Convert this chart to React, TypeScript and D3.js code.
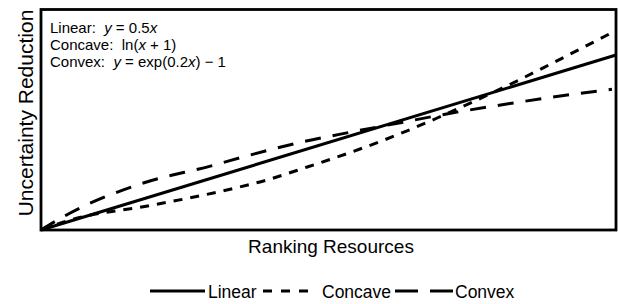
import * as d3 from 'd3';
import React, { useEffect, useRef } from 'react';

// values (x: resources 0..10, y: reduction)
const linearX = [0, 10];
const linearY = [0, 5];

const concaveX = [0, 0.5, 1.9, 3.06, 3.93, 4.63, 5.37, 5.95, 6.42, 6.89, 7.51, 8.33, 8.85, 9.93];
const concaveY = [0, 0.28, 0.7, 1.08, 1.43, 1.8, 2.21, 2.56, 2.87, 3.2, 3.66, 4.3, 4.73, 5.64];

const convexX = [0, 0.5, 1.7, 3.0, 3.5, 4.5, 5.4, 6.2, 7.1, 8.1, 9.0, 9.93];
const convexY = [0, 0.48, 1.3, 1.85, 2.08, 2.5, 2.8, 3.05, 3.33, 3.6, 3.82, 4.02];

const legendNames = ['Linear', 'Concave', 'Convex'];

const W = 618;
const H = 304;

const App: React.FC = () => {
  const svgRef = useRef<SVGSVGElement>(null);

  useEffect(() => {
    if (!svgRef.current) return;
    const svg = d3.select(svgRef.current);
    svg.selectAll('*').remove();

    const left = 41, right = 616, top = 9.5, bottom = 230;
    const font = 'Liberation Sans, Arial, Helvetica, sans-serif';

    const x = d3.scaleLinear().domain([0, 10]).range([left, right]);
    const y = d3.scaleLinear().domain([0, 6.3]).range([bottom, top]);

    const line = d3.line<[number, number]>()
      .x(d => x(d[0]))
      .y(d => y(d[1]))
      .curve(d3.curveMonotoneX);

    const zip = (xs: number[], ys: number[]) => xs.map((v, i) => [v, ys[i]] as [number, number]);

    const series = [
      { pts: zip(linearX, linearY), dash: null },
      { pts: zip(concaveX, concaveY), dash: '9,8' },
      { pts: zip(convexX, convexY), dash: '16,12' },
    ];

    // frame
    svg.append('rect')
      .attr('x', left).attr('y', top)
      .attr('width', right - left).attr('height', bottom - top)
      .attr('fill', 'none')
      .attr('stroke', '#000')
      .attr('stroke-width', 2.8);

    series.forEach(s => {
      svg.append('path')
        .datum(s.pts)
        .attr('d', line)
        .attr('fill', 'none')
        .attr('stroke', '#000')
        .attr('stroke-width', 3)
        .attr('stroke-dasharray', s.dash ?? null);
    });

    // equations
    const eq = svg.append('text')
      .attr('x', 50).attr('y', 33)
      .style('font-family', font)
      .style('font-size', '15px')
      .attr('fill', '#000');
    const addLine = (parts: [string, boolean][], dy: number) => {
      parts.forEach(([t, it], i) => {
        const ts = eq.append('tspan').text(t);
        if (i === 0) ts.attr('x', 50).attr('dy', dy);
        if (it) ts.style('font-style', 'italic');
      });
    };
    addLine([['Linear:\u00a0\u00a0', false], ['y', true], [' = 0.5', false], ['x', true]], 0);
    addLine([['Concave:\u00a0\u00a0ln(', false], ['x', true], [' + 1)', false]], 17);
    addLine([['Convex:\u00a0\u00a0', false], ['y', true], [' = exp(0.2', false], ['x', true], [') \u2212 1', false]], 17);

    // axis titles
    svg.append('text')
      .attr('transform', `translate(33, 113) rotate(-90)`)
      .attr('text-anchor', 'middle')
      .style('font-family', font)
      .style('font-size', '21px')
      .attr('fill', '#000')
      .text('Uncertainty Reduction');

    svg.append('text')
      .attr('x', 331).attr('y', 253)
      .attr('text-anchor', 'middle')
      .style('font-family', font)
      .style('font-size', '19px')
      .attr('fill', '#000')
      .text('Ranking Resources');

    // legend
    const legendY = 291;
    const swatches = [
      { x0: 150, x1: 205, tx: 208, dash: null },
      { x0: 263, x1: 308, tx: 322, dash: '9,9' },
      { x0: 395, x1: 453, tx: 455, dash: '23,12' },
    ];
    swatches.forEach((sw, i) => {
      svg.append('line')
        .attr('x1', sw.x0).attr('x2', sw.x1)
        .attr('y1', legendY).attr('y2', legendY)
        .attr('stroke', '#000')
        .attr('stroke-width', 3)
        .attr('stroke-dasharray', sw.dash ?? null);
      svg.append('text')
        .attr('x', sw.tx).attr('y', 297.5)
        .style('font-family', font)
        .style('font-size', '17.5px')
        .attr('fill', '#000')
        .text(legendNames[i]);
    });
  }, []);

  return (
    <svg
      ref={svgRef}
      width={W}
      height={H}
      style={{ position: 'absolute', left: 0, top: 0, background: '#fff' }}
    />
  );
};

export default App;
